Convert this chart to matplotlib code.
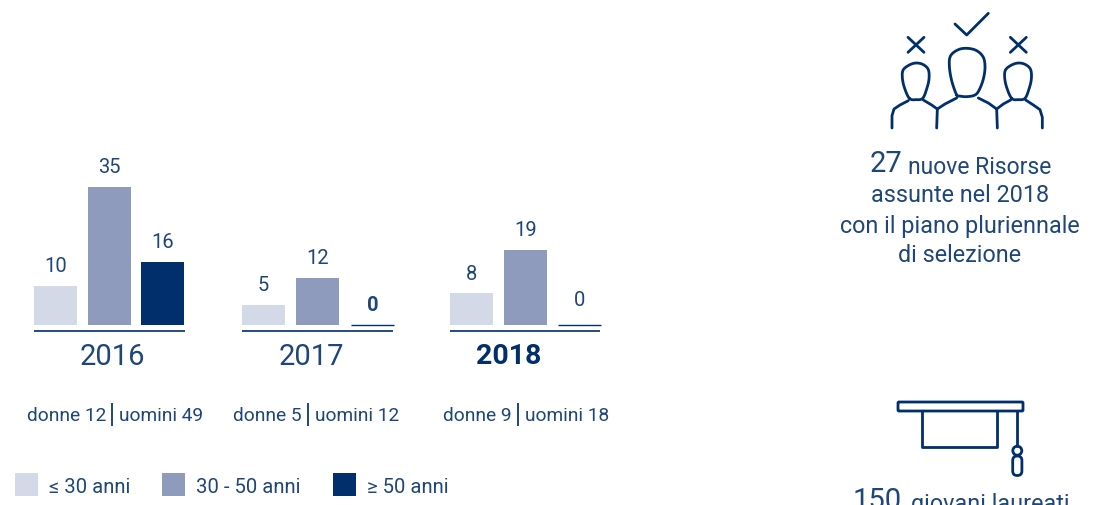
import matplotlib
matplotlib.use('Agg')
import matplotlib.pyplot as plt
from matplotlib.patches import Rectangle, Circle, FancyBboxPatch
import numpy as np

years = ['2016', '2017', '2018']
under_30 = [10, 5, 8]
from_30_to_50 = [35, 12, 19]
over_50 = [16, 0, 0]
donne = [12, 5, 9]
uomini = [49, 12, 18]
legend_labels = ['≤ 30 anni', '30 - 50 anni', '≥ 50 anni']

LIGHT = '#d3d9e6'
MID = '#8f9bbd'
DARK = '#002f6c'
TEXT = '#1f4679'
W, H = 1096, 506
PX_PER_UNIT = 3.94
BASE_PX = 326

plt.rcParams['font.family'] = ['Roboto', 'DejaVu Sans']

fig = plt.figure(figsize=(W / 100, H / 100), dpi=100)

# overlay in pixel coords for text and icons
ax = fig.add_axes([0, 0, 1, 1])
ax.set_xlim(0, W)
ax.set_ylim(H - 1, -1)
ax.axis('off')

# bars axes
top_px = 150
ax_bars = fig.add_axes([0, (H - BASE_PX) / H, 1, (BASE_PX - top_px) / H])
ax_bars.set_xlim(0, W)
ax_bars.set_ylim(0, (BASE_PX - top_px) / PX_PER_UNIT)
ax_bars.axis('off')

bar_left = [[34, 88, 141], [242, 296, 351], [450, 504, 558]]
bar_w = 43
line_span = [(34, 185), (242, 393), (450, 600)]
year_x = [112, 311, 509]
pipe_x = [112, 308, 518]

for i, year in enumerate(years):
    values = [under_30[i], from_30_to_50[i], over_50[i]]
    for left, val, col in zip(bar_left[i], values, [LIGHT, MID, DARK]):
        if val == 0:
            ax_bars.bar(left, 0, width=bar_w, align='edge', color=col, edgecolor=DARK, linewidth=1, clip_on=False)
        else:
            ax_bars.bar(left, val, width=bar_w, align='edge', color=col, linewidth=0)
        bold_zero = year == '2017' and val == 0
        # the 2018 zero sits a bit higher in the original
        offset = 18.5 if (year == '2018' and val == 0) else 14.7
        ax_bars.annotate(str(val), (left + bar_w / 2, val), xytext=(0, offset), textcoords='offset points',
                         ha='center', va='center', fontsize=14.5, color=TEXT,
                         fontweight='bold' if bold_zero else 'normal')
    ax.plot(line_span[i], [331, 331], color=DARK, lw=1.2, solid_capstyle='butt')
    is_last = year == '2018'
    ax.text(year_x[i], 356, year, ha='center', va='center', fontsize=20.5 if is_last else 21,
            color=DARK if is_last else TEXT, fontweight='bold' if is_last else 'normal')
    ax.text(pipe_x[i] - 6, 415, f'donne {donne[i]}', ha='right', va='center', fontsize=13.8, color=TEXT)
    ax.text(pipe_x[i] + 7, 415, f'uomini {uomini[i]}', ha='left', va='center', fontsize=13.8, color=TEXT)
    ax.plot([pipe_x[i], pipe_x[i]], [403, 426], color=TEXT, lw=1.4, solid_capstyle='butt')

# legend
for x_box, x_txt, col, lab in zip([15, 162, 333], [49, 196, 367], [LIGHT, MID, DARK], legend_labels):
    ax.add_patch(Rectangle((x_box, 473), 23, 23, facecolor=col, linewidth=0))
    ax.text(x_txt, 487, lab, ha='left', va='center', fontsize=14.6, color=TEXT)

# text on the right
ax.text(902, 163, '27', ha='right', va='center', fontsize=21, color=TEXT)
ax.text(908, 166, 'nuove Risorse', ha='left', va='center', fontsize=16.5, color=TEXT)
ax.text(960, 194, 'assunte nel 2018', ha='center', va='center', fontsize=16.8, color=TEXT)
ax.text(960, 225, 'con il piano pluriennale', ha='center', va='center', fontsize=16.8, color=TEXT)
ax.text(960, 254, 'di selezione', ha='center', va='center', fontsize=16.8, color=TEXT)
ax.text(902, 500, '150', ha='right', va='center', fontsize=21, color=TEXT)
ax.text(911, 503, 'giovani laureati', ha='left', va='center', fontsize=16.8, color=TEXT)


def smooth(pts, closed=False, n=8):
    # catmull-rom through the traced points
    p = np.array(pts, dtype=float)
    if closed:
        p = np.vstack([p[-1], p, p[0], p[1]])
    else:
        p = np.vstack([p[0], p, p[-1]])
    out = []
    for a, b, c, d in zip(p[:-3], p[1:-2], p[2:-1], p[3:]):
        for t in np.linspace(0, 1, n, endpoint=False):
            out.append(0.5 * (2 * b + (c - a) * t + (2 * a - 5 * b + 4 * c - d) * t ** 2 + (3 * b - a - 3 * c + d) * t ** 3))
    out.append(p[-2])
    return np.array(out)


def icon_line(pts, ox=820, oy=0, curved=False, closed=False):
    xy = smooth(pts, closed) if curved else np.array(pts, dtype=float)
    ax.plot(xy[:, 0] / 3 + ox, xy[:, 1] / 3 + oy, color=DARK, lw=2.0, solid_capstyle='round', solid_joinstyle='round')


# people icon in 3x units
icon_line([(405, 75), (440, 108), (505, 43)], oy=-1)
for dx in [0, 307]:
    icon_line([(264 + dx, 115), (312 + dx, 160)], oy=-1)
    icon_line([(312 + dx, 115), (264 + dx, 160)], oy=-1)
    head = [(268, 298), (253, 265), (247, 235), (250, 212), (270, 197), (290, 192), (310, 197), (325, 212),
            (327, 240), (320, 270), (308, 298), (288, 302)]
    icon_line([(x + dx, y) for x, y in head], oy=-1, curved=True, closed=True)
icon_line([(410, 288), (395, 245), (388, 200), (392, 170), (415, 152), (442, 148), (470, 155), (490, 175),
           (495, 205), (490, 240), (478, 272), (465, 288), (440, 293), (418, 291)], oy=-1, curved=True, closed=True)
icon_line([(216, 387), (216, 350), (222, 330), (240, 318), (265, 305)], oy=-1)
icon_line([(310, 303), (335, 318), (352, 330), (350, 387)], oy=-1)
icon_line([(352, 330), (375, 315), (410, 297)], oy=-1)
icon_line([(475, 297), (505, 312), (530, 330), (532, 387)], oy=-1)
icon_line([(530, 330), (550, 315), (572, 303)], oy=-1)
icon_line([(617, 303), (640, 318), (660, 332), (667, 355), (667, 387)], oy=-1)

# graduation cap icon
ax.add_patch(FancyBboxPatch((898, 402), 125, 9, boxstyle='round,pad=0,rounding_size=1', fill=False, edgecolor=DARK, lw=2.0))
icon_line([(305, 93), (305, 200), (532, 200), (532, 93)], oy=380)
icon_line([(592, 93), (592, 198)], oy=380)
ax.add_patch(Circle((1017.3, 450.7), 4.5, fill=False, edgecolor=DARK, lw=2.0))
ax.add_patch(FancyBboxPatch((1012.7, 456), 9.2, 19.5, boxstyle='round,pad=0,rounding_size=4.5', fill=False, edgecolor=DARK, lw=2.0))

fig.savefig('out.png', dpi=100)
